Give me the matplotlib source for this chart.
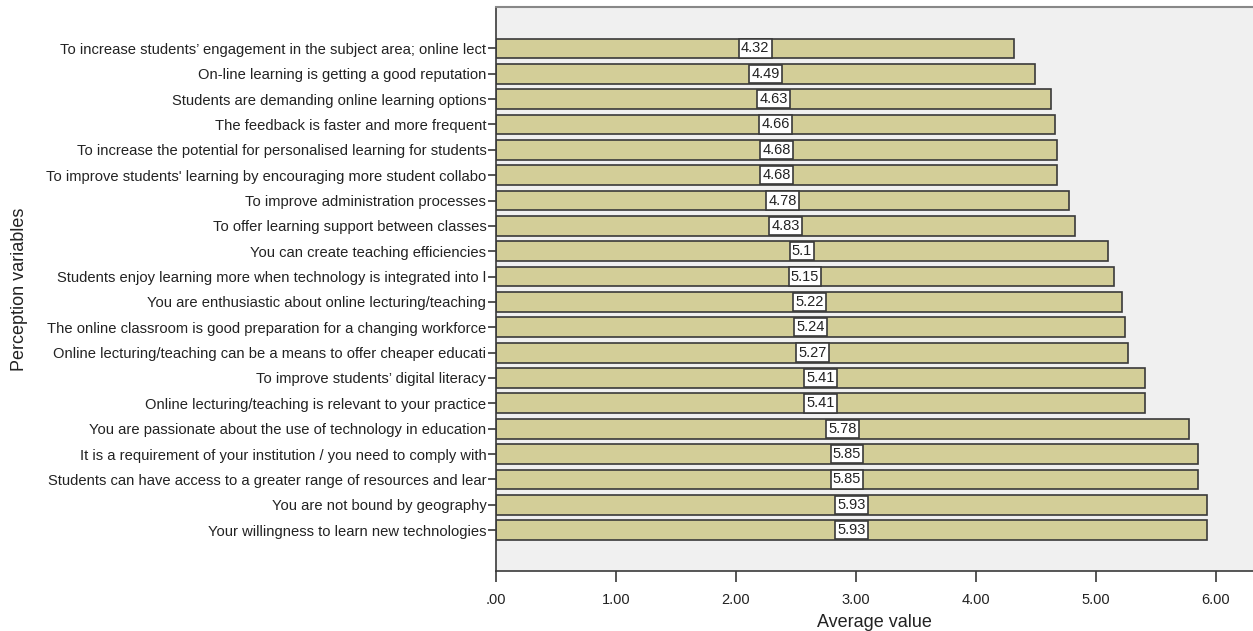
import matplotlib.pyplot as plt
from matplotlib.ticker import FixedLocator

# Mean agreement score per perception variable (top to bottom)
etiquetas = [
    "To increase students\u2019 engagement in the subject area; online lect",
    "On-line learning is getting a good reputation",
    "Students are demanding online learning options",
    "The feedback is faster and more frequent",
    "To increase the potential for personalised learning for students",
    "To improve students' learning by encouraging more student collabo",
    "To improve administration processes",
    "To offer learning support between classes",
    "You can create teaching efficiencies",
    "Students enjoy learning more when technology is integrated into l",
    "You are enthusiastic about online lecturing/teaching",
    "The online classroom is good preparation for a changing workforce",
    "Online lecturing/teaching can be a means to offer cheaper educati",
    "To improve students\u2019 digital literacy",
    "Online lecturing/teaching is relevant to your practice",
    "You are passionate about the use of technology in education",
    "It is a requirement of your institution / you need to comply with",
    "Students can have access to a greater range of resources and lear",
    "You are not bound by geography",
    "Your willingness to learn new technologies",
]
valores = [4.32, 4.49, 4.63, 4.66, 4.68, 4.68, 4.78, 4.83, 5.1, 5.15,
           5.22, 5.24, 5.27, 5.41, 5.41, 5.78, 5.85, 5.85, 5.93, 5.93]
ticks_x = [0, 1, 2, 3, 4, 5, 6]
ticks_x_txt = [".00", "1.00", "2.00", "3.00", "4.00", "5.00", "6.00"]

plt.rcParams['font.family'] = ['Liberation Sans', 'DejaVu Sans']
texto = '#222222'
borde = '#3a3a3a'

fig = plt.figure(figsize=(12.53, 6.31), dpi=100)
ax = fig.add_axes([0.3959, 0.0956, 0.6041, 0.8928])
ax.set_facecolor('#f0f0f0')

pos = list(range(len(valores)))
ax.barh(pos, valores, height=0.78, color='#d3ce98', edgecolor=borde,
        linewidth=1.2, zorder=2)

# Value labels sit at the middle of each bar
for y, v in zip(pos, valores):
    ax.text(v / 2, y, f"{v:g}", ha='center', va='center', fontsize=10.5,
            color=texto, zorder=3,
            bbox=dict(boxstyle='square,pad=0.15', facecolor='white',
                      edgecolor=borde, linewidth=1.2))

ax.set_xlim(0, 6.31)
ax.set_ylim(20.6, -1.62)

ax.set_yticks(pos)
ax.set_yticklabels(etiquetas, fontsize=10.6, color=texto)
ax.xaxis.set_major_locator(FixedLocator(ticks_x))
ax.set_xticklabels(ticks_x_txt, fontsize=10.5, color=texto)
ax.tick_params(axis='y', length=6, width=1.2, color=borde, pad=1)
ax.tick_params(axis='x', length=8, width=1.2, color=borde, pad=8)

ax.set_xlabel("Average value", fontsize=13, color=texto, labelpad=5)
ax.set_ylabel("Perception variables", fontsize=13, color=texto)
ax.yaxis.set_label_coords(-0.618, 0.5)

for lado in ['left', 'bottom']:
    ax.spines[lado].set_color(borde)
    ax.spines[lado].set_linewidth(1.2)
ax.spines['top'].set_color('#888888')
ax.spines['top'].set_linewidth(1.5)
ax.spines['right'].set_visible(False)

fig.savefig('out.png', dpi=100)
